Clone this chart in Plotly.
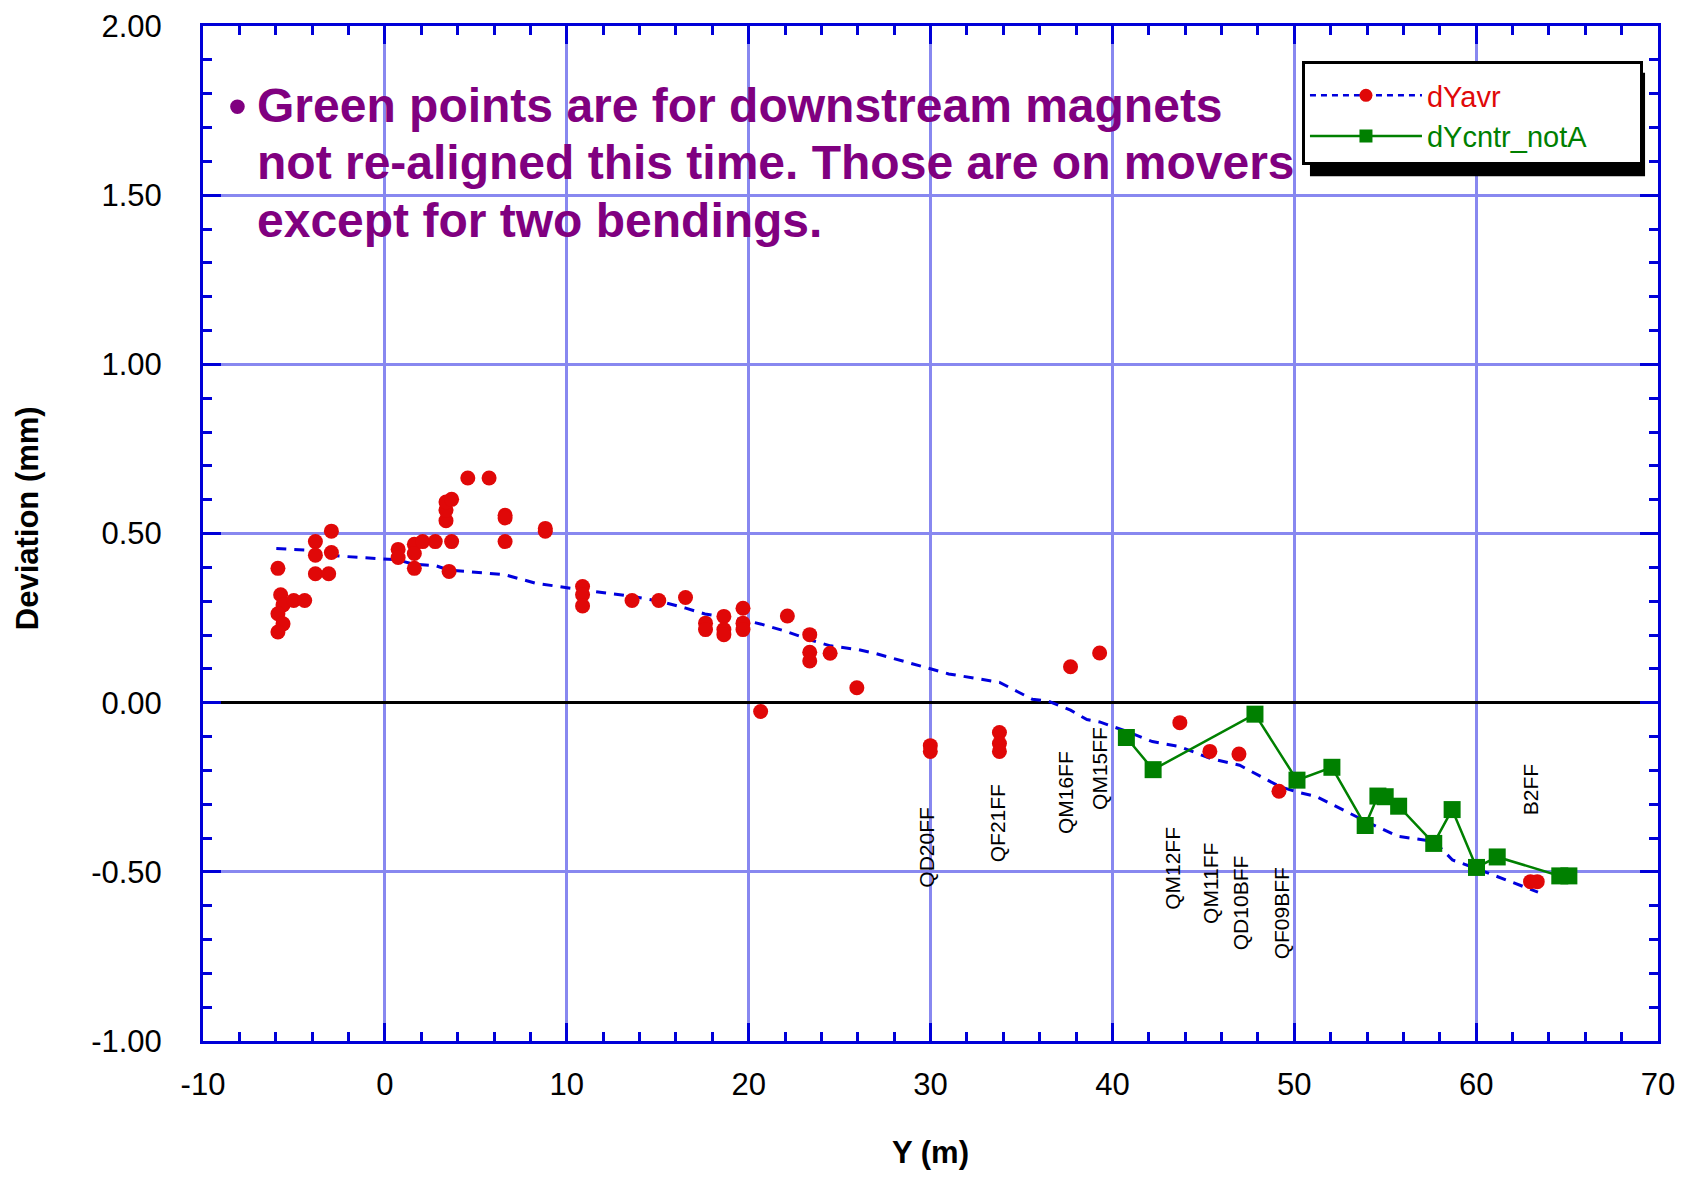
import plotly.graph_objects as go

# ---- data ----
red_x = [-5.88, -5.73, -5.6, -5.88, -5.6, -5.88, -5.01, -4.41, -3.82, -3.82, -3.82, -2.94, -2.94, -3.09,
         0.73, 0.73, 1.62, 1.62, 1.62, 2.08, 2.77, 3.67, 3.53, 3.36, 3.36, 3.36, 3.67, 4.56, 5.73,
         6.61, 6.61, 6.61, 8.82, 8.82, 10.87, 10.87, 10.87, 13.59, 15.06, 16.53, 17.63, 17.63,
         18.64, 18.64, 18.64, 19.69, 19.69, 19.69, 20.66, 22.13, 23.36, 23.36, 23.36, 24.48, 25.95,
         29.99, 29.99, 33.79, 33.79, 33.79, 37.70, 39.30, 43.71, 45.36, 46.96, 49.16, 62.99, 63.36]
red_y = [0.397, 0.319, 0.289, 0.263, 0.233, 0.209, 0.302, 0.302, 0.476, 0.436, 0.381, 0.507, 0.444, 0.381,
         0.453, 0.429, 0.468, 0.441, 0.397, 0.476, 0.476, 0.476, 0.388, 0.538, 0.569, 0.593, 0.601, 0.664, 0.664,
         0.554, 0.546, 0.476, 0.515, 0.507, 0.343, 0.319, 0.286, 0.302, 0.302, 0.311, 0.235, 0.216,
         0.255, 0.216, 0.201, 0.279, 0.235, 0.216, -0.026, 0.256, 0.201, 0.149, 0.123, 0.146, 0.044,
         -0.127, -0.144, -0.088, -0.121, -0.144, 0.106, 0.147, -0.059, -0.144, -0.152, -0.262, -0.529, -0.529]

avr_line_x = [-5.97, -4.3, -3.3, -0.1, 0.7, 1.6, 2.8, 3.5, 6.6, 8.3, 8.9, 10.9, 13.6, 15.1, 16.5, 17.6,
              19.7, 20.7, 22.1, 23.4, 24.5, 26.0, 27.0, 30.0, 31.0, 33.8, 35.6, 36.5, 37.7, 38.6, 39.3,
              40.8, 42.2, 43.7, 45.4, 47.0, 49.2, 50.2, 51.2, 53.9, 55.7, 57.7, 58.7, 60.0, 61.2, 63.4]
avr_line_y = [0.456, 0.451, 0.436, 0.425, 0.422, 0.409, 0.405, 0.392, 0.378, 0.353, 0.348, 0.333, 0.314,
              0.300, 0.280, 0.262, 0.245, 0.232, 0.210, 0.185, 0.168, 0.157, 0.145, 0.100, 0.085, 0.060,
              0.010, 0.004, -0.022, -0.050, -0.057, -0.085, -0.115, -0.130, -0.165, -0.185, -0.248,
              -0.265, -0.277, -0.350, -0.395, -0.410, -0.465, -0.490, -0.515, -0.560]

green_x = [40.77, 42.24, 47.84, 50.15, 52.07, 53.90, 54.6, 55.0, 55.74, 57.67, 58.68, 60.02, 61.16, 64.6, 65.1]
green_y = [-0.103, -0.198, -0.034, -0.229, -0.191, -0.363, -0.276, -0.278, -0.306, -0.416, -0.316,
           -0.487, -0.456, -0.512, -0.512]

magnet_labels = ["QD20FF", "QF21FF", "QM16FF", "QM15FF", "QM12FF", "QM11FF", "QD10BFF", "QF09BFF", "B2FF"]
magnet_x = [29.8, 33.7, 37.4, 39.3, 43.3, 45.4, 47.05, 49.3, 63.0]
magnet_y = [-0.426, -0.357, -0.267, -0.194, -0.49, -0.534, -0.591, -0.624, -0.257]

note_lines = ["Green points are for downstream magnets",
              "not re-aligned this time. Those are on movers",
              "except for two bendings."]
note_line_y = [1.765, 1.597, 1.426]

x_ticks = [-10, 0, 10, 20, 30, 40, 50, 60, 70]
x_tick_text = ["-10", "0", "10", "20", "30", "40", "50", "60", "70"]
y_ticks = [-1.0, -0.5, 0.0, 0.5, 1.0, 1.5, 2.0]
y_tick_text = ["-1.00", "-0.50", "0.00", "0.50", "1.00", "1.50", "2.00"]

RED = "#e00808"
BLUE = "#0000dd"
GREEN = "#008000"
FRAME = "#0000d8"
GRID = "#8888f0"
PURPLE = "#800080"
FONT = "Liberation Sans, Arial, sans-serif"
PAD = "&nbsp;" * 6

fig = go.Figure()

fig.add_trace(go.Scatter(x=avr_line_x, y=avr_line_y, mode="lines",
                         line=dict(color=BLUE, width=3, dash="10px,8px"),
                         showlegend=False, hoverinfo="skip"))
fig.add_trace(go.Scatter(x=red_x, y=red_y, mode="markers",
                         marker=dict(color=RED, size=15, symbol="circle"),
                         showlegend=False))
fig.add_trace(go.Scatter(x=green_x, y=green_y, mode="lines+markers",
                         line=dict(color=GREEN, width=2.5),
                         marker=dict(color=GREEN, size=17, symbol="square"),
                         showlegend=False))
# legend entries
fig.add_trace(go.Scatter(x=[None], y=[None], mode="lines+markers",
                         name="<span style='color:%s'>dYavr</span>" % RED + PAD,
                         line=dict(color=BLUE, width=2.5, dash="6px,5px"),
                         marker=dict(color=RED, size=13, symbol="circle")))
fig.add_trace(go.Scatter(x=[None], y=[None], mode="lines+markers",
                         name="<span style='color:%s'>dYcntr_notA</span>" % GREEN + PAD,
                         line=dict(color=GREEN, width=2.5),
                         marker=dict(color=GREEN, size=13, symbol="square")))

for lab, mx, my in zip(magnet_labels, magnet_x, magnet_y):
    fig.add_annotation(x=mx, y=my, text=lab, textangle=-90, showarrow=False,
                       font=dict(family=FONT, size=21, color="black"),
                       xanchor="center", yanchor="middle")

# purple note
fig.add_annotation(x=-8.75, y=note_line_y[0], text="•", showarrow=False, xanchor="left", yanchor="middle",
                   font=dict(family=FONT, size=54, color=PURPLE))
for line_text, ly in zip(note_lines, note_line_y):
    fig.add_annotation(x=-7.15, y=ly, text="<b>%s</b>" % line_text,
                       showarrow=False, xanchor="left", yanchor="middle", align="left",
                       font=dict(family=FONT, size=48, color=PURPLE))

# y axis title
fig.add_annotation(xref="paper", yref="paper", x=-0.121, y=0.515, text="<b>Deviation (mm)</b>",
                   textangle=-90, showarrow=False, xanchor="center", yanchor="middle",
                   font=dict(family=FONT, size=31, color="black"))

# legend shadow
fig.add_shape(type="rect", xref="paper", yref="paper",
              x0=0.7608, x1=0.9911, y0=0.8520, y1=0.9540,
              fillcolor="black", line=dict(width=0), layer="above")

axis_common = dict(showline=True, linecolor=FRAME, linewidth=3, mirror="allticks",
                   showgrid=True, gridcolor=GRID, gridwidth=3,
                   ticks="inside", tickcolor=FRAME, tickwidth=3, ticklen=18,
                   ticklabeloverflow="allow",
                   tickfont=dict(family=FONT, size=31, color="black"))

fig.update_xaxes(range=[-10, 70], tickvals=x_ticks, ticktext=x_tick_text, zeroline=False,
                 minor=dict(dtick=2, ticks="inside", ticklen=9, tickwidth=3, tickcolor=FRAME, showgrid=False),
                 ticklabelstandoff=14,
                 title=dict(text="<b>Y (m)</b>", font=dict(family=FONT, size=31, color="black"), standoff=46),
                 **axis_common)
fig.update_yaxes(range=[-1, 2], tickvals=y_ticks, ticktext=y_tick_text,
                 zeroline=True, zerolinecolor="black", zerolinewidth=3,
                 minor=dict(dtick=0.1, ticks="inside", ticklen=9, tickwidth=3, tickcolor=FRAME, showgrid=False),
                 ticklabelstandoff=32,
                 **axis_common)

fig.update_layout(
    width=1674, height=1162,
    margin=dict(l=195, r=24, t=18, b=129, autoexpand=False),
    paper_bgcolor="white", plot_bgcolor="white",
    font=dict(family=FONT, color="black"),
    legend=dict(x=0.7553, y=0.966, xanchor="left", yanchor="top",
                bgcolor="white", bordercolor="black", borderwidth=3,
                font=dict(family=FONT, size=29), itemwidth=112,
                tracegroupgap=0,
                title=dict(text="&nbsp;", font=dict(family=FONT, size=5))),
)

fig.write_html("out.html")
